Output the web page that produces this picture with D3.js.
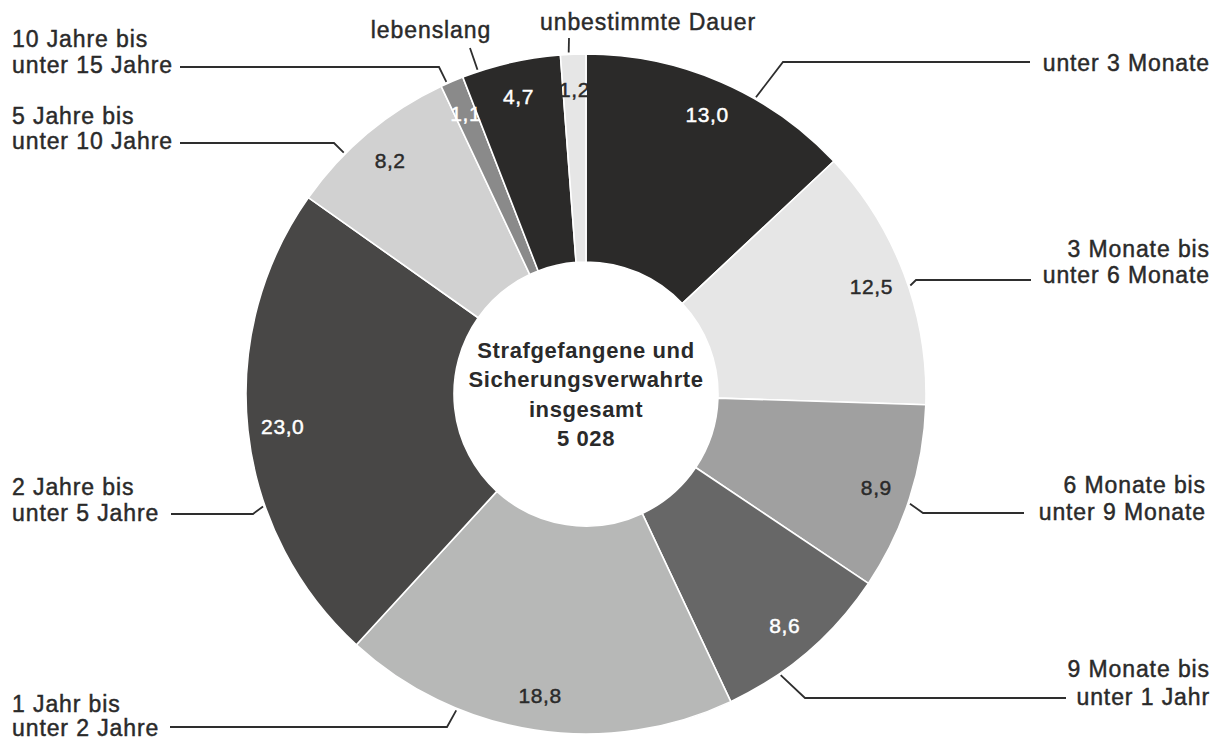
<!DOCTYPE html>
<html>
<head>
<meta charset="utf-8">
<script src="https://cdn.jsdelivr.net/npm/d3@7"></script>
<style>
  html, body { margin: 0; padding: 0; background: #ffffff; }
  svg { display: block; }
  text { font-family: "Liberation Sans", Arial, sans-serif; }
</style>
</head>
<body>
<svg id="chart" width="1223" height="740"></svg>
<script>
// ---- data ----
const categories = [
  "unter 3 Monate",
  "3 Monate bis unter 6 Monate",
  "6 Monate bis unter 9 Monate",
  "9 Monate bis unter 1 Jahr",
  "1 Jahr bis unter 2 Jahre",
  "2 Jahre bis unter 5 Jahre",
  "5 Jahre bis unter 10 Jahre",
  "10 Jahre bis unter 15 Jahre",
  "lebenslang",
  "unbestimmte Dauer"
];
const values = [13.0, 12.5, 8.9, 8.6, 18.8, 23.0, 8.2, 1.1, 4.7, 1.2];
const totalCount = 5028;
const centerTitle = ["Strafgefangene und", "Sicherungsverwahrte", "insgesamt"];

// ---- styles ----
const sliceColors = ["#2b2a29", "#e6e6e6", "#a0a0a0", "#676767", "#b7b8b7",
                     "#484746", "#d1d1d1", "#8a8a8a", "#2b2a29", "#e6e6e6"];
const valueTextColors = ["#ffffff", "#2a2a2a", "#2a2a2a", "#ffffff", "#2a2a2a",
                         "#ffffff", "#2a2a2a", "#ffffff", "#ffffff", "#2a2a2a"];

// label layout: text lines, anchor, x, baselines, leader (start angle in deg on the ring, elbow, end x)
const labelLayout = [
  { lines: ["unter 3 Monate"], anchor: "end", x: 1210, ys: [71], leadAngle: 29.8, elbow: [783, 62], endX: 1030 },
  { lines: ["3 Monate bis", "unter 6 Monate"], anchor: "end", x: 1210, ys: [257, 283], leadAngle: 71.5, elbow: [916, 280], endX: 1031 },
  { lines: ["6 Monate bis", "unter 9 Monate"], anchor: "end", x: 1206, ys: [493, 520], leadAngle: 108.7, elbow: [923, 513], endX: 1024 },
  { lines: ["9 Monate bis", "unter 1 Jahr"], anchor: "end", x: 1210, ys: [677, 705], leadAngle: 145.3, elbow: [805, 698], endX: 1066 },
  { lines: ["1 Jahr bis", "unter 2 Jahre"], anchor: "start", x: 12, ys: [712, 736], leadAngle: 202.3, elbow: [447, 727], endX: 170 },
  { lines: ["2 Jahre bis", "unter 5 Jahre"], anchor: "start", x: 12, ys: [495, 521], leadAngle: 250.8, elbow: [253, 514], endX: 171 },
  { lines: ["5 Jahre bis", "unter 10 Jahre"], anchor: "start", x: 12, ys: [124, 149], leadAngle: 314.9, elbow: [334, 143], endX: 180 },
  { lines: ["10 Jahre bis", "unter 15 Jahre"], anchor: "start", x: 12, ys: [47, 73], leadAngle: 335.9, elbow: [439, 67], endX: 180 },
  { lines: ["lebenslang"], anchor: "middle", x: 431, ys: [38], leadAngle: 341.5, elbow: [470, 48], endX: null },
  { lines: ["unbestimmte Dauer"], anchor: "middle", x: 648, ys: [30], leadAngle: 357.1, elbow: [569, 38], endX: null }
];

// ---- geometry ----
const cx = 586, cy = 394;
const outerR = 340, innerR = 132, valueR = 305;

const svg = d3.select("#chart");
const g = svg.append("g").attr("transform", `translate(${cx},${cy})`);

const locale = d3.formatLocale({ decimal: ",", thousands: " ", grouping: [3], currency: ["", " €"] });
const fmtVal = locale.format(".1f");
const fmtInt = locale.format(",d");

const pie = d3.pie().sort(null).value(d => d).startAngle(0).endAngle(2 * Math.PI);
const arcs = pie(values);

const arc = d3.arc().innerRadius(innerR).outerRadius(outerR);
const labelArc = d3.arc().innerRadius(valueR).outerRadius(valueR);

g.selectAll("path.slice")
  .data(arcs)
  .join("path")
  .attr("class", "slice")
  .attr("d", arc)
  .attr("fill", (d, i) => sliceColors[i])
  .attr("stroke", "#ffffff")
  .attr("stroke-width", 1.6)
  .attr("stroke-linejoin", "round");

// value labels
g.selectAll("text.val")
  .data(arcs)
  .join("text")
  .attr("class", "val")
  .attr("x", d => labelArc.centroid(d)[0])
  .attr("y", d => labelArc.centroid(d)[1] + 7.5)
  .attr("text-anchor", "middle")
  .attr("font-size", 21)
  .attr("letter-spacing", 0.6)
  .attr("fill", (d, i) => valueTextColors[i])
  .attr("stroke", (d, i) => valueTextColors[i])
  .attr("stroke-width", 0.45)
  .text(d => fmtVal(d.data));

// center text
const centerLines = centerTitle.concat([fmtInt(totalCount)]);
const centerBaselines = [358, 387, 417, 446];
g.selectAll("text.center")
  .data(centerLines)
  .join("text")
  .attr("class", "center")
  .attr("x", 0)
  .attr("y", (d, i) => centerBaselines[i] - cy)
  .attr("text-anchor", "middle")
  .attr("font-size", 22)
  .attr("font-weight", "bold")
  .attr("letter-spacing", 0.6)
  .attr("fill", "#2a2a2a")
  .text(d => d);

// category labels and leaders
const lab = svg.append("g");
labelLayout.forEach((L, i) => {
  const a = L.leadAngle * Math.PI / 180;
  const r0 = outerR + 2;
  const sx = cx + r0 * Math.sin(a), sy = cy - r0 * Math.cos(a);
  const pts = [[sx, sy], L.elbow];
  if (L.endX !== null) pts.push([L.endX, L.elbow[1]]);
  lab.append("path")
    .attr("d", d3.line()(pts))
    .attr("fill", "none")
    .attr("stroke", "#2e2e2e")
    .attr("stroke-width", 1.8);
  const t = lab.append("text")
    .attr("text-anchor", L.anchor)
    .attr("font-size", 23)
    .attr("letter-spacing", 0.9)
    .attr("fill", "#2a2a2a")
    .attr("stroke", "#2a2a2a")
    .attr("stroke-width", 0.45)
    .attr("data-category", categories[i]);
  L.lines.forEach((line, k) => {
    t.append("tspan").attr("x", L.x).attr("y", L.ys[k]).text(line);
  });
});
</script>
</body>
</html>
